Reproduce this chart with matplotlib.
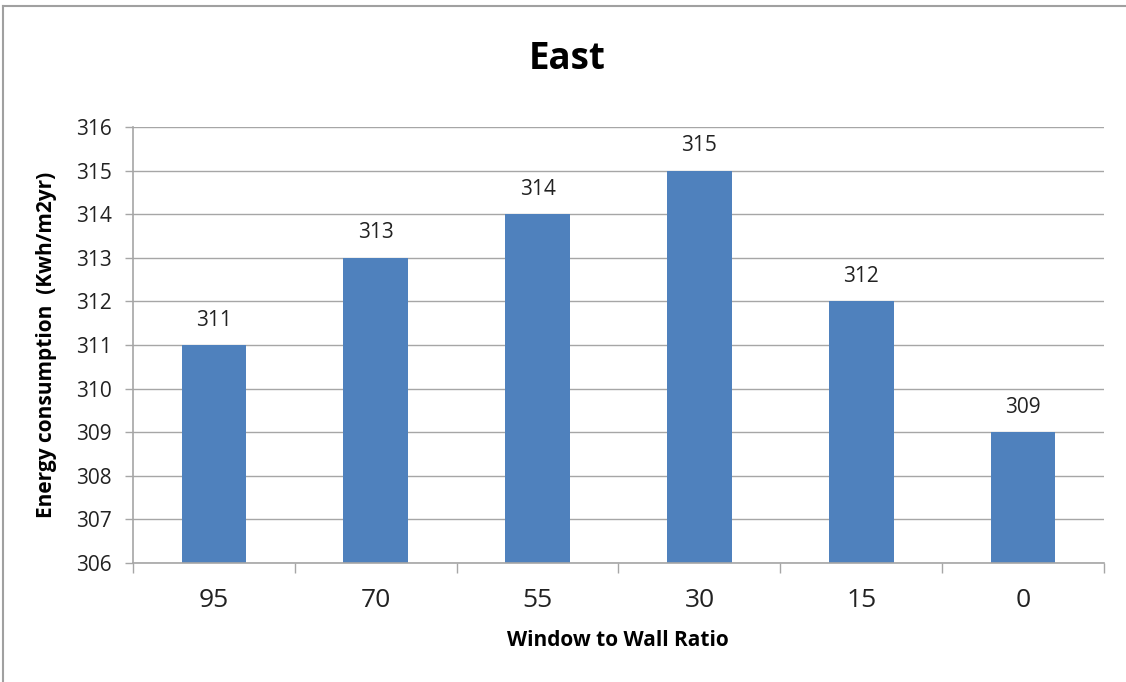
import matplotlib.pyplot as plt
from matplotlib.lines import Line2D

categories = ["95", "70", "55", "30", "15", "0"]
values = [311, 313, 314, 315, 312, 309]
y_ticks = list(range(306, 317))

title = "East"
x_label = "Window to Wall Ratio"
y_label = "Energy consumption  (Kwh/m2yr)"

bar_color = "#4F81BD"
grid_color = "#A6A6A6"
text_color = "#222222"
font = ["Open Sans", "DejaVu Sans"]

W, H = 1126, 682
fig = plt.figure(figsize=(W / 100, H / 100), dpi=100)
ax = fig.add_axes([133 / W, 1 - 563 / H, (1104 - 133) / W, (563 - 127) / H])

x = range(len(categories))
ax.bar(x, values, width=0.4, color=bar_color, zorder=3)

ax.set_ylim(y_ticks[0], y_ticks[-1])
ax.set_xlim(-0.5, len(categories) - 0.5)
ax.set_yticks(y_ticks)
ax.set_yticklabels([str(t) for t in y_ticks], fontsize=15, family=font, color=text_color)

# category labels centred, tick marks on category boundaries
ax.set_xticks(list(x))
ax.set_xticklabels(categories, fontsize=19, family=font, color=text_color)
ax.tick_params(axis="x", length=0, pad=18)
ax.set_xticks([i - 0.5 for i in range(len(categories) + 1)], minor=True)
ax.tick_params(axis="x", which="minor", length=7, width=1, color=grid_color, direction="out")
ax.tick_params(axis="y", length=6, width=1, color=grid_color, direction="out", pad=9)

ax.grid(axis="y", color=grid_color, linewidth=1, zorder=0)
for side in ["top", "right"]:
    ax.spines[side].set_visible(False)
for side in ["left", "bottom"]:
    ax.spines[side].set_color(grid_color)
    ax.spines[side].set_linewidth(1.2)
    ax.spines[side].set_zorder(4)

for xi, v in zip(x, values):
    ax.annotate(f"{v}", xy=(xi, v), xytext=(0, 18), textcoords="offset points",
                ha="center", va="center", fontsize=15, family=font, color=text_color)

fig.text(618 / W, 1 - 641 / H, x_label, ha="center", va="center",
         fontsize=15, fontweight="bold", family=font)
fig.text(47 / W, 1 - 345 / H, y_label, ha="center", va="center", rotation=90,
         fontsize=15, fontweight="bold", family=font)

fig.text(567 / W, 1 - 59 / H, title, ha="center", va="center", fontsize=26.5,
         fontweight="bold", family=font)

# chart frame along top and left edges
fig.add_artist(Line2D([3 / W, 1.0], [1 - 6 / H, 1 - 6 / H],
                      transform=fig.transFigure, color="#A0A0A0", linewidth=1.5))
fig.add_artist(Line2D([3 / W, 3 / W], [0.0, 1 - 6 / H],
                      transform=fig.transFigure, color="#A0A0A0", linewidth=1.5))

fig.savefig("out.png", dpi=100)
